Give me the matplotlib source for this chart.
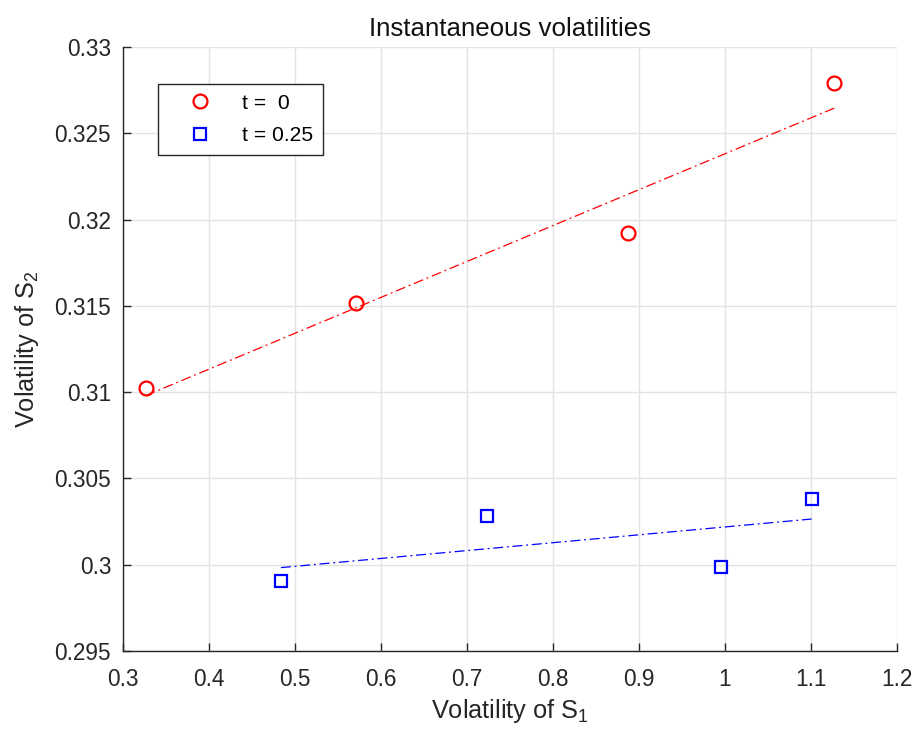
import numpy as np
import matplotlib
matplotlib.use("Agg")
import matplotlib.pyplot as plt

plt.rcParams['font.family'] = ['Liberation Sans', 'DejaVu Sans']
plt.rcParams['mathtext.fontset'] = 'custom'
plt.rcParams['mathtext.rm'] = 'Liberation Sans'
plt.rcParams['mathtext.it'] = 'Liberation Sans:italic'
plt.rcParams['mathtext.bf'] = 'Liberation Sans:bold'

# Data
vol1_t0 = [0.3264, 0.5706, 0.8868, 1.1271]
vol2_t0 = [0.31027, 0.31517, 0.31923, 0.32793]
vol1_t025 = [0.4837, 0.7233, 0.9953, 1.1008]
vol2_t025 = [0.29906, 0.30283, 0.29989, 0.30380]
legend_labels = ['t =  0', 't = 0.25']
xticks = [0.3, 0.4, 0.5, 0.6, 0.7, 0.8, 0.9, 1.0, 1.1, 1.2]
xticklabels = ['0.3', '0.4', '0.5', '0.6', '0.7', '0.8', '0.9', '1', '1.1', '1.2']
yticks = [0.295, 0.3, 0.305, 0.31, 0.315, 0.32, 0.325, 0.33]
yticklabels = ['0.295', '0.3', '0.305', '0.31', '0.315', '0.32', '0.325', '0.33']

fig = plt.figure(figsize=(9.15, 7.31), dpi=100)
ax = fig.add_axes([0.1344, 0.1094, 0.8459, 0.8263])

ax.plot(vol1_t0, vol2_t0, 'o', mfc='none', mec='red', mew=1.6, ms=10, label=legend_labels[0], zorder=3)
ax.plot(vol1_t025, vol2_t025, 's', mfc='none', mec='blue', mew=1.6, ms=8, label=legend_labels[1], zorder=3)

for xs, ys, c in [(vol1_t0, vol2_t0, 'red'), (vol1_t025, vol2_t025, 'blue')]:
    xs = np.asarray(xs); ys = np.asarray(ys)
    p = np.polyfit(xs, ys, 1)
    xx = np.array([xs.min(), xs.max()])
    ax.plot(xx, np.polyval(p, xx), color=c, lw=0.9, dashes=(8, 3, 1.5, 3), zorder=2)

ax.set_xlim(0.3, 1.2)
ax.set_ylim(0.295, 0.33)
ax.set_xticks(xticks)
ax.set_xticklabels(xticklabels)
ax.set_yticks(yticks)
ax.set_yticklabels(yticklabels)

ax.grid(True, color='#e3e3e3', lw=1)
ax.set_axisbelow(True)
for s in ['top', 'right']:
    ax.spines[s].set_visible(False)
for s in ['left', 'bottom']:
    ax.spines[s].set_color('#262626')
    ax.spines[s].set_linewidth(1.0)
ax.tick_params(direction='in', length=6, width=1.0, colors='#262626', labelsize=16.3)
ax.tick_params(axis='x', pad=12.5)
ax.tick_params(axis='y', pad=8.5)
for lbl in ax.get_xticklabels() + ax.get_yticklabels():
    lbl.set_color('#262626')

ax.set_title('Instantaneous volatilities', fontsize=18.6, color='#111111', pad=8)
ax.set_xlabel('Volatility of S$_1$', fontsize=18.3, color='#262626', labelpad=4)
ax.set_ylabel('Volatility of S$_2$', fontsize=18.3, color='#262626', labelpad=10)

leg = ax.legend(loc='upper left', bbox_to_anchor=(0.0452, 0.9387), fontsize=15.2,
                frameon=True, fancybox=False, edgecolor='#262626', framealpha=1,
                handlelength=3.1, handletextpad=0.45, borderpad=0.45, labelspacing=0.65,
                borderaxespad=0)
leg.get_frame().set_linewidth(1.0)

fig.savefig('out.png', dpi=100)
